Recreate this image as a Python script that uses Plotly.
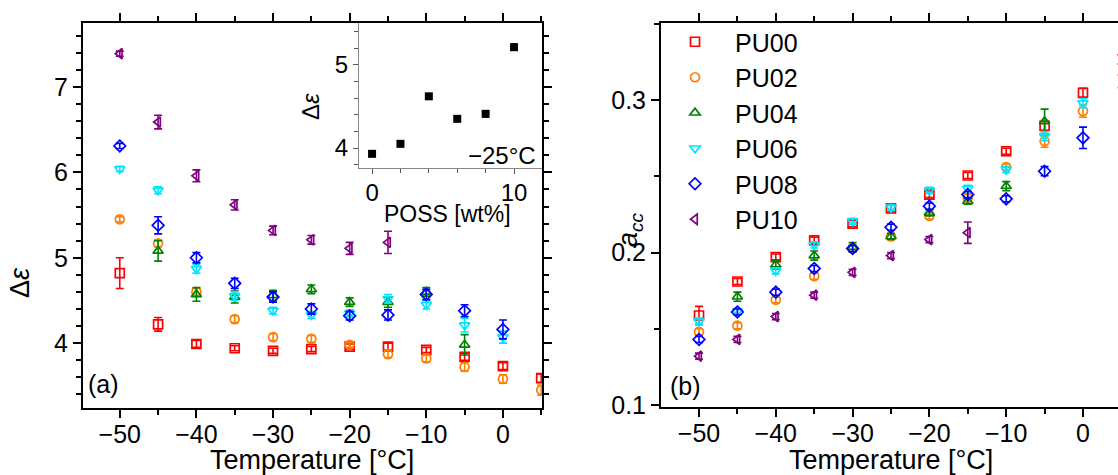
import plotly.graph_objects as go

temps = [-50, -45, -40, -35, -30, -25, -20, -15, -10, -5, 0, 5]
names = ["PU00", "PU02", "PU04", "PU06", "PU08", "PU10"]
colors = ["#ff0000", "#ff8000", "#008000", "#00e5ff", "#0000ff", "#800080"]
symbols = ["square-open", "circle-open", "triangle-up-open", "triangle-down-open",
           "diamond-open", "triangle-left-open"]

# Panel (a): dielectric strength
de_PU00 = [4.82, 4.22, 3.99, 3.94, 3.91, 3.93, 3.96, 3.96, 3.92, 3.84, 3.73, 3.59]
de_PU02 = [5.45, 5.17, 4.60, 4.28, 4.07, 4.05, 3.98, 3.87, 3.82, 3.72, 3.58, 3.45]
de_PU04 = [None, 5.08, 4.57, 4.54, 4.56, 4.63, 4.48, 4.48, 4.60, 3.98, None, None]
de_PU06 = [6.04, 5.79, 4.87, 4.55, 4.38, 4.33, 4.35, 4.52, 4.45, 4.21, 4.07, None]
de_PU08 = [6.31, 5.38, 5.00, 4.70, 4.54, 4.40, 4.32, 4.33, 4.57, 4.38, 4.16, None]
de_PU10 = [7.39, 6.59, 5.96, 5.62, 5.32, 5.21, 5.11, 5.18, None, None, None, None]
de_err_PU00 = [0.18, 0.08, 0.04, 0.03, 0.03, 0.03, 0.03, 0.04, 0.03, 0.04, 0.04, 0.05]
de_err_PU02 = [0.03, 0.04, 0.04, 0.04, 0.04, 0.04, 0.03, 0.04, 0.04, 0.05, 0.05, 0.06]
de_err_PU04 = [0, 0.12, 0.08, 0.07, 0.06, 0.05, 0.05, 0.06, 0.05, 0.12, 0, 0]
de_err_PU06 = [0.03, 0.04, 0.05, 0.05, 0.04, 0.04, 0.04, 0.05, 0.05, 0.08, 0.07, 0]
de_err_PU08 = [0.03, 0.10, 0.06, 0.06, 0.06, 0.06, 0.05, 0.06, 0.06, 0.07, 0.11, 0]
de_err_PU10 = [0.03, 0.08, 0.07, 0.06, 0.05, 0.05, 0.07, 0.13, 0, 0, 0, 0]

# Panel (b): a_cc shape parameter
acc_PU00 = [0.1587, 0.181, 0.197, 0.208, 0.219, 0.229, 0.238, 0.2505, 0.2664, 0.283, 0.3047, 0.3266]
acc_PU02 = [0.148, 0.152, 0.169, 0.1845, 0.2026, 0.2105, 0.224, 0.236, 0.256, 0.273, 0.2927, 0.3123]
acc_PU04 = [None, 0.171, 0.192, 0.198, 0.2035, 0.2105, 0.226, 0.2336, 0.2435, 0.286, None, None]
acc_PU06 = [0.155, 0.1615, 0.188, 0.205, 0.2205, 0.2295, 0.2408, 0.242, 0.2544, 0.2763, 0.298, None]
acc_PU08 = [0.143, 0.161, 0.174, 0.1895, 0.2026, 0.2166, 0.2304, 0.238, 0.2352, 0.2533, 0.2752, None]
acc_PU10 = [0.132, 0.143, 0.158, 0.172, 0.187, 0.198, 0.2085, 0.213, None, None, None, None]
acc_err_PU00 = [0.006, 0.002, 0.002, 0.002, 0.002, 0.002, 0.002, 0.002, 0.002, 0.003, 0.003, 0.003]
acc_err_PU02 = [0.002, 0.002, 0.002, 0.002, 0.002, 0.002, 0.002, 0.002, 0.002, 0.004, 0.004, 0.004]
acc_err_PU04 = [0, 0.003, 0.003, 0.003, 0.003, 0.002, 0.002, 0.002, 0.003, 0.008, 0, 0]
acc_err_PU06 = [0.002, 0.002, 0.002, 0.002, 0.002, 0.002, 0.002, 0.002, 0.002, 0.003, 0.003, 0]
acc_err_PU08 = [0.002, 0.002, 0.002, 0.002, 0.002, 0.002, 0.002, 0.002, 0.002, 0.003, 0.007, 0]
acc_err_PU10 = [0.002, 0.002, 0.002, 0.002, 0.002, 0.002, 0.002, 0.007, 0, 0, 0, 0]

# Inset: dielectric strength at -25 °C vs POSS content
poss_wt = [0, 2, 4, 6, 8, 10]
de_m25 = [3.93, 4.05, 4.62, 4.35, 4.41, 5.21]
de_m25_err = [0.02, 0.02, 0.03, 0.03, 0.04, 0.04]

de_all = [de_PU00, de_PU02, de_PU04, de_PU06, de_PU08, de_PU10]
de_err_all = [de_err_PU00, de_err_PU02, de_err_PU04, de_err_PU06, de_err_PU08, de_err_PU10]
acc_all = [acc_PU00, acc_PU02, acc_PU04, acc_PU06, acc_PU08, acc_PU10]
acc_err_all = [acc_err_PU00, acc_err_PU02, acc_err_PU04, acc_err_PU06, acc_err_PU08, acc_err_PU10]

FONT = "Arial, Liberation Sans, sans-serif"
W, H = 1118, 475

fig = go.Figure()

for i, n in enumerate(names):
    fig.add_trace(go.Scatter(
        x=temps, y=de_all[i], mode="markers", name=n, showlegend=False,
        xaxis="x", yaxis="y",
        marker=dict(symbol=symbols[i], size=9, color=colors[i], line=dict(width=1.7, color=colors[i])),
        error_y=dict(type="data", array=de_err_all[i], color=colors[i], thickness=1.6, width=4),
    ))

for i, n in enumerate(names):
    fig.add_trace(go.Scatter(
        x=temps, y=acc_all[i], mode="markers", name=n, showlegend=True,
        xaxis="x2", yaxis="y2", cliponaxis=False,
        marker=dict(symbol=symbols[i], size=9, color=colors[i], line=dict(width=1.7, color=colors[i])),
        error_y=dict(type="data", array=acc_err_all[i], color=colors[i], thickness=1.6, width=4),
    ))

fig.add_trace(go.Scatter(
    x=poss_wt, y=de_m25, mode="markers", showlegend=False, xaxis="x3", yaxis="y3",
    marker=dict(symbol="square", size=8, color="black"),
    error_y=dict(type="data", array=de_m25_err, color="black", thickness=1.2, width=3),
))

def px_x(p):
    return p / W

def px_y(p):
    return 1 - p / H

main_axis = dict(showline=True, linecolor="black", linewidth=2, ticks="outside",
                 ticklen=8, tickwidth=2, tickcolor="black", showgrid=False, zeroline=False,
                 automargin=False,
                 tickfont=dict(family=FONT, size=25, color="black"), mirror="ticks")

fig.update_layout(
    template="none",
    width=W, height=H, margin=dict(l=0, r=0, t=0, b=0, pad=0, autoexpand=False),
    paper_bgcolor="white", plot_bgcolor="white",
    font=dict(family=FONT, color="black"),
    xaxis=dict(main_axis, domain=[px_x(83), px_x(542)], range=[-54.8, 5.1],
               dtick=10, tick0=0, anchor="y", ticklabelstandoff=-5,
               minor=dict(dtick=5, tick0=0, ticklen=5, tickwidth=2, tickcolor="black", ticks="outside")),
    yaxis=dict(main_axis, domain=[px_y(408), px_y(23)], range=[3.24, 7.75],
               dtick=1, tick0=0, anchor="x",
               minor=dict(dtick=0.2, tick0=0, ticklen=5, tickwidth=2, tickcolor="black", ticks="outside")),
    xaxis2=dict(main_axis, domain=[px_x(661), 1.0], range=[-54.95, 4.56],
                dtick=10, tick0=0, anchor="y2", ticklabelstandoff=-5,
                minor=dict(dtick=5, tick0=0, ticklen=5, tickwidth=2, tickcolor="black", ticks="outside")),
    yaxis2=dict(main_axis, domain=[px_y(407), px_y(23)], range=[0.0987, 0.3505],
                dtick=0.1, tick0=0, anchor="x2", mirror=False, tickformat=".1f",
                minor=dict(dtick=0.05, tick0=0, ticklen=5, tickwidth=2, tickcolor="black", ticks="outside")),
    xaxis3=dict(domain=[px_x(359), px_x(542)], range=[-0.92, 11.97], anchor="y3",
                showline=True, linecolor="#888888", linewidth=1.2, ticks="outside", ticklen=5,
                tickwidth=1.2, tickcolor="#555555", showgrid=False, zeroline=False, automargin=False,
                tickvals=[0, 10], tickfont=dict(family=FONT, size=24, color="black"),
                ticklabelstandoff=-2,
                minor=dict(tickvals=[2, 4, 6, 8], ticklen=4, tickwidth=1.2, tickcolor="#555555", ticks="outside")),
    yaxis3=dict(domain=[px_y(168), px_y(23)], range=[3.76, 5.5], anchor="x3",
                showline=True, linecolor="#888888", linewidth=1.2, ticks="outside", ticklen=5,
                tickwidth=1.2, tickcolor="#555555", showgrid=False, zeroline=False, automargin=False,
                dtick=1, tick0=0, tickfont=dict(family=FONT, size=24, color="black"),
                minor=dict(dtick=0.2, tick0=0, ticklen=4, tickwidth=1.2, tickcolor="#555555", ticks="outside")),
    legend=dict(x=px_x(655), y=px_y(19), xanchor="left", yanchor="top",
                font=dict(family=FONT, size=25, color="black"), bgcolor="rgba(0,0,0,0)",
                tracegroupgap=0, itemwidth=70, borderwidth=0),
)

ann = []
def add_ann(text, x, y, size, angle=0, xanchor="center", yanchor="middle"):
    ann.append(dict(text=text, x=px_x(x), y=px_y(y), xref="paper", yref="paper",
                    showarrow=False, textangle=angle, xanchor=xanchor, yanchor=yanchor,
                    font=dict(family=FONT, size=size, color="black")))

add_ann("Temperature [°C]", 312, 460, 27)
add_ann("Temperature [°C]", 891, 460, 27)
add_ann("Δ<i>ε</i>", 20, 283, 27, angle=-90)
add_ann("<i>a<sub>cc</sub></i>", 630, 230, 27, angle=-90)
add_ann("(a)", 103, 384, 25)
add_ann("(b)", 685, 386, 25)
add_ann("Δ<i>ε</i>", 310, 107, 24, angle=-90)
add_ann("POSS [wt%]", 447, 214, 23)
add_ann("−25°C", 502, 155, 24)
fig.update_layout(annotations=ann)

fig.write_html("out.html")
